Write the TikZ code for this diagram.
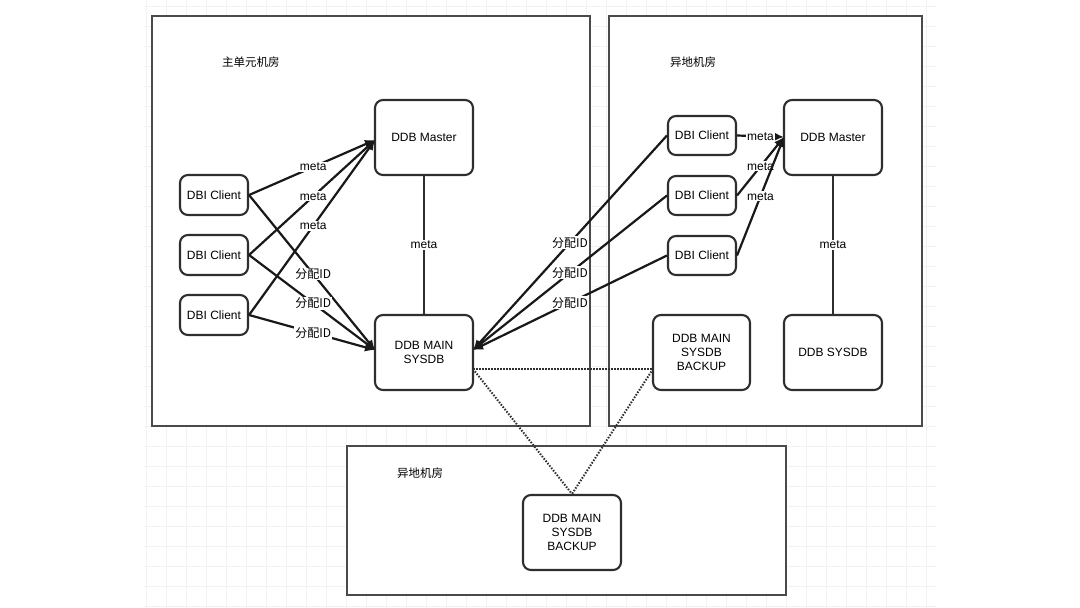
\documentclass[tikz,border=0pt]{standalone}
\usepackage{fontspec}
\setmainfont{Liberation Sans}
\newfontfamily\cjk{Noto Sans CJK SC}
\usetikzlibrary{arrows.meta}
\definecolor{boxline}{HTML}{4A4A4A}
\definecolor{nodeline}{HTML}{2E2E2E}
\definecolor{gridc}{HTML}{F2F2F5}
\tikzset{
  room/.style={draw=boxline, line width=1.3pt, fill=white},
  comp/.style={draw=nodeline, line width=2.1pt, rounded corners=8pt, fill=white, align=center, font=\fontsize{12}{14}\selectfont, inner sep=0pt},
  roomlabel/.style={font=\cjk\fontsize{11.5}{14}\selectfont, anchor=west, inner sep=0pt},
  conn/.style={line width=2.2pt, draw=black!90, -{Latex[length=10pt,width=9pt]}},
  plain/.style={line width=1.9pt, draw=nodeline},
  dots/.style={line width=2pt, draw=nodeline, dash pattern=on 1.5pt off 1.5pt},
  lab/.style={fill=white, inner sep=1pt, font=\fontsize{12}{14}\selectfont},
  clab/.style={fill=white, inner sep=1pt, font=\fontsize{12}{14}\selectfont\cjk},
}
\newcommand{\fp}{分配ID}
\begin{document}
\begin{tikzpicture}[x=1pt,y=-1pt]
\useasboundingbox (0,0) rectangle (1080,608);
\fill[white] (0,0) rectangle (1080,608);
% faint grid
\foreach \gx in {146,166,...,936} \draw[gridc, line width=0.8pt] (\gx,0) -- (\gx,608);
\foreach \gy in {6,26,...,606} \draw[gridc, line width=0.8pt] (144,\gy) -- (937,\gy);

% rooms
\draw[room] (152,16) rectangle (590,426);
\draw[room] (609,16) rectangle (922,426);
\draw[room] (347,446) rectangle (786,595);
\node[roomlabel] (lblA) at (222,62) {主单元机房};
\node[roomlabel] (lblB) at (670,62) {异地机房};
\node[roomlabel] (lblC) at (397,473) {异地机房};

% left room nodes
\node[comp, minimum width=68pt, minimum height=40pt] (c1) at (214,195) {DBI Client};
\node[comp, minimum width=68pt, minimum height=40pt] (c2) at (214,255) {DBI Client};
\node[comp, minimum width=68pt, minimum height=40pt] (c3) at (214,315) {DBI Client};
\node[comp, minimum width=98pt, minimum height=75pt] (m1) at (424,137.5) {DDB Master};
\node[comp, minimum width=98pt, minimum height=75pt] (s1) at (424,352.5) {DDB MAIN\\SYSDB};

% right room nodes
\node[comp, minimum width=68pt, minimum height=39pt] (r1) at (702,135.5) {DBI Client};
\node[comp, minimum width=68pt, minimum height=39pt] (r2) at (702,195.5) {DBI Client};
\node[comp, minimum width=68pt, minimum height=39pt] (r3) at (702,255.5) {DBI Client};
\node[comp, minimum width=98pt, minimum height=75pt] (m2) at (833,137.5) {DDB Master};
\node[comp, minimum width=98pt, minimum height=75pt] (s2) at (833,352.5) {DDB SYSDB};
\node[comp, minimum width=97pt, minimum height=75pt] (b1) at (701.5,352.5) {DDB MAIN\\SYSDB\\BACKUP};

% bottom room node
\node[comp, minimum width=98pt, minimum height=75pt] (b2) at (572,532.5) {DDB MAIN\\SYSDB\\BACKUP};

% anchor points
\coordinate (m1in) at (375,140);
\coordinate (s1in) at (375,350);
\coordinate (s1r) at (473,350);
\coordinate (m2in) at (784,137);
\coordinate (s1d) at (473,369);
\coordinate (b1d) at (653,369);

% dotted replication
\draw[dots] (s1d) -- (b1d);
\draw[dots] (s1d) -- (b2.north);
\draw[dots] (b1d) -- (b2.north);

% vertical meta links
\draw[plain] (m1.south) -- node[lab] {meta} (s1.north);
\draw[plain] (m2.south) -- node[lab] {meta} (s2.north);

% left clients -> master / sysdb
\draw[conn] (c1.east) -- node[lab, pos=0.51] {meta} (m1in);
\draw[conn] (c2.east) -- node[lab, pos=0.51] {meta} (m1in);
\draw[conn] (c3.east) -- node[lab, pos=0.51] {meta} (m1in);
\draw[conn] (c1.east) -- node[clab, pos=0.51] {\fp} (s1in);
\draw[conn] (c2.east) -- node[clab, pos=0.51] {\fp} (s1in);
\draw[conn] (c3.east) -- node[clab, pos=0.51] {\fp} (s1in);

% right clients -> left sysdb
\draw[conn] (r1.west) -- node[clab, pos=0.5] {\fp} (s1r);
\draw[conn] (r2.west) -- node[clab, pos=0.5] {\fp} (s1r);
\draw[conn] (r3.west) -- node[clab, pos=0.5] {\fp} (s1r);

% right clients -> right master
\draw[conn] (r1.east) -- node[lab, pos=0.5] {meta} (m2in);
\draw[conn] (r2.east) -- node[lab, pos=0.5] {meta} (m2in);
\draw[conn] (r3.east) -- node[lab, pos=0.5] {meta} (m2in);
\end{tikzpicture}
\end{document}
